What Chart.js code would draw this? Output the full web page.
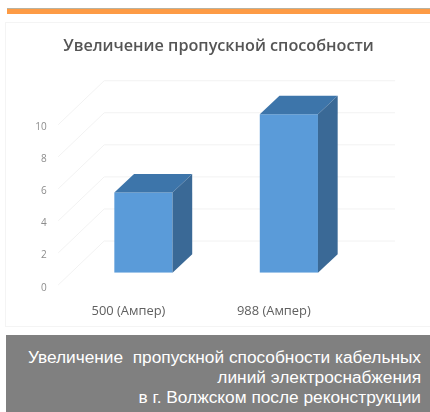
<!DOCTYPE html>
<html lang="ru">
<head>
<meta charset="utf-8">
<title>Увеличение пропускной способности</title>
<script src="https://cdn.jsdelivr.net/npm/chart.js@4"></script>
<style>
    html, body { margin: 0; padding: 0; background: #fff; }
    body { position: relative; width: 430px; height: 412px; overflow: hidden; }
    #strip { position: absolute; left: 7px; top: 8px; width: 423px; height: 6px; background: #fd9b45; border-top: 1px solid #b9b29f; box-sizing: border-box; }
    #card { position: absolute; left: 5px; top: 22px; width: 425px; height: 305px; border: 1px solid #f4f4f4; border-right: 0; box-sizing: border-box; }
    #chart { position: absolute; left: 0; top: 0; filter: blur(0.45px); }
    #caption { position: absolute; left: 6px; top: 335px; width: 424px; height: 77px; background: #808080; color: #fff; font: 17.3px/20px "Liberation Sans", Arial, sans-serif; text-align: right; white-space: nowrap; box-sizing: border-box; padding: 12px 9px 0 0; }
</style>
</head>
<body>
<div id="strip"></div>
<div id="card"></div>
<canvas id="chart" width="430" height="412"></canvas>
<div id="caption">Увеличение&nbsp; пропускной способности кабельных<br>линий электроснабжения<br>в г. Волжском после реконструкции</div>
<script>
const titleText = 'Увеличение пропускной способности';
const categories = ['500 (Ампер)', '988 (Ампер)'];
const capacity = [5, 9.88];
const yTicks = [0, 2, 4, 6, 8, 10];

// 3D look: depth of the bars and of the chart box
const barDx = 19.7, barDy = -18.5;
const wallDx = 33.5, wallDy = -31.7;
const floorDx = -12.5, floorDy = 12.3;

const fakeDepth = {
    id: 'fakeDepth',
    beforeDatasetsDraw(chart) {
        const { ctx, chartArea } = chart;
        const y = chart.scales.y;
        ctx.save();
        ctx.lineWidth = 1;
        ctx.strokeStyle = '#f2f2f2';
        yTicks.forEach(v => {
            const py = y.getPixelForValue(v);
            ctx.beginPath();
            ctx.moveTo(chartArea.left + floorDx, py + floorDy);
            ctx.lineTo(chartArea.left + wallDx, py + wallDy);
            ctx.lineTo(chartArea.right + wallDx, py + wallDy);
            ctx.stroke();
        });
        ctx.restore();
    },
    afterDatasetsDraw(chart) {
        const { ctx } = chart;
        ctx.save();
        chart.getDatasetMeta(0).data.forEach(bar => {
            const l = bar.x - bar.width / 2, r = bar.x + bar.width / 2;
            // top face
            ctx.fillStyle = '#3d75aa';
            ctx.beginPath();
            ctx.moveTo(l, bar.y);
            ctx.lineTo(l + barDx, bar.y + barDy);
            ctx.lineTo(r + barDx, bar.y + barDy);
            ctx.lineTo(r, bar.y);
            ctx.fill();
            // side face
            ctx.fillStyle = '#3a6996';
            ctx.beginPath();
            ctx.moveTo(r, bar.y);
            ctx.lineTo(r + barDx, bar.y + barDy);
            ctx.lineTo(r + barDx, bar.base + barDy);
            ctx.lineTo(r, bar.base);
            ctx.fill();
        });
        ctx.restore();
    }
};

new Chart(document.getElementById('chart'), {
    type: 'bar',
    plugins: [fakeDepth],
    data: {
        labels: categories,
        datasets: [{
            data: capacity,
            backgroundColor: '#5a9bd9',
            barPercentage: 0.4,
            categoryPercentage: 1
        }]
    },
    options: {
        responsive: false,
        animation: false,
        layout: { padding: { left: 10.7, right: 3.7, top: 0, bottom: 89.3 } },
        plugins: {
            legend: { display: false },
            tooltip: { enabled: false },
            title: {
                display: true,
                text: titleText,
                color: '#555555',
                font: { family: '"Open Sans", "Noto Sans", sans-serif', size: 16.2, weight: '600' },
                padding: { top: 37, bottom: 56 }
            }
        },
        scales: {
            x: {
                afterFit: s => { s.height = 50; },
                grid: { display: false },
                border: { display: false },
                ticks: { color: '#606060', padding: 23, labelOffset: -15, maxRotation: 0, font: { family: '"Open Sans", "Noto Sans", sans-serif', size: 12.9 } }
            },
            y: {
                min: 0,
                max: 10,
                afterFit: s => { s.width = 60; },
                afterBuildTicks: s => { s.ticks = yTicks.map(v => ({ value: v })); },
                grid: { display: false },
                border: { display: false },
                ticks: { color: '#8c8c8c', padding: 16, labelOffset: 15, font: { family: '"Open Sans", "Noto Sans", sans-serif', size: 10 } }
            },
            // empty axis, only keeps the plot off centre while the title stays centred
            spacer: {
                position: 'right',
                afterFit: s => { s.width = 64.7; },
                grid: { display: false },
                border: { display: false },
                ticks: { display: false }
            }
        }
    }
});
</script>
</body>
</html>
